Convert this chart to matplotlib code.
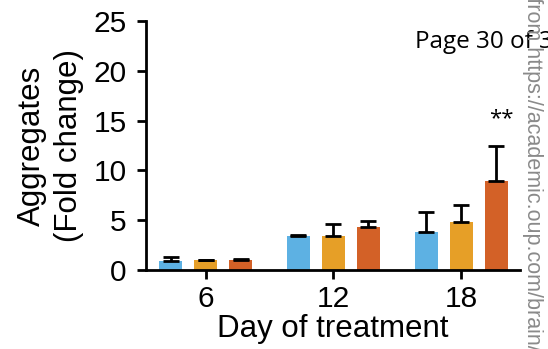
import numpy as np
import matplotlib
matplotlib.use("Agg")
import matplotlib.pyplot as plt

# values
days = ["6", "12", "18"]
blue = [0.9, 3.4, 3.8]
blue_err = [0.4, 0.15, 2.05]
orange = [1.0, 3.4, 4.8]
orange_err = [0.05, 1.2, 1.7]
red = [1.0, 4.3, 8.9]
red_err = [0.1, 0.6, 3.5]

colors = ["#5DB1E3", "#E69F27", "#D36127"]

plt.rcParams["font.family"] = ["Liberation Sans", "DejaVu Sans"]

fig = plt.figure(figsize=(5.48, 3.49), dpi=100)
ax = fig.add_axes([0.2664, 0.2264, 0.6825, 0.7135])

x = np.arange(len(days))
off = 0.274
w = 0.183
for i, (vals, errs) in enumerate([(blue, blue_err), (orange, orange_err), (red, red_err)]):
    xs = x + (i - 1) * off
    ax.bar(xs, vals, width=w, color=colors[i], zorder=2)
    ax.errorbar(xs, vals, yerr=[np.zeros(len(errs)), errs], fmt="none",
                ecolor="black", elinewidth=2, capsize=6, capthick=2, zorder=3)

ax.set_xlim(-0.467, 2.46)
ax.set_ylim(0, 25)
ax.set_yticks([0, 5, 10, 15, 20, 25])
ax.set_xticks(x)
ax.set_xticklabels(days)
ax.tick_params(labelsize=21.5, width=2, length=6.5, direction="out")
ax.tick_params(axis="y", pad=7.5)
ax.tick_params(axis="x", pad=4)
for s in ["top", "right"]:
    ax.spines[s].set_visible(False)
for s in ["left", "bottom"]:
    ax.spines[s].set_linewidth(2)

ax.set_xlabel("Day of treatment", fontsize=22.5, labelpad=1)
ax.set_ylabel("Aggregates\n(Fold change)", fontsize=22.5, labelpad=7, linespacing=1.3)

ax.text(2.31, 15.2, "**", ha="center", va="center", fontsize=16, family="Open Sans")

fig.text(415 / 548, 1 - 48 / 349, "Page 30 of 36", fontsize=17.5, family="Open Sans",
         ha="left", va="baseline")
fig.text(532 / 548, 1 + 128 / 349, "Downloaded from https://academic.oup.com/brain/advance-article",
         rotation=-90, ha="center", va="top", fontsize=15.5, color="#8a8a8a")

fig.savefig("out.png", dpi=100)
